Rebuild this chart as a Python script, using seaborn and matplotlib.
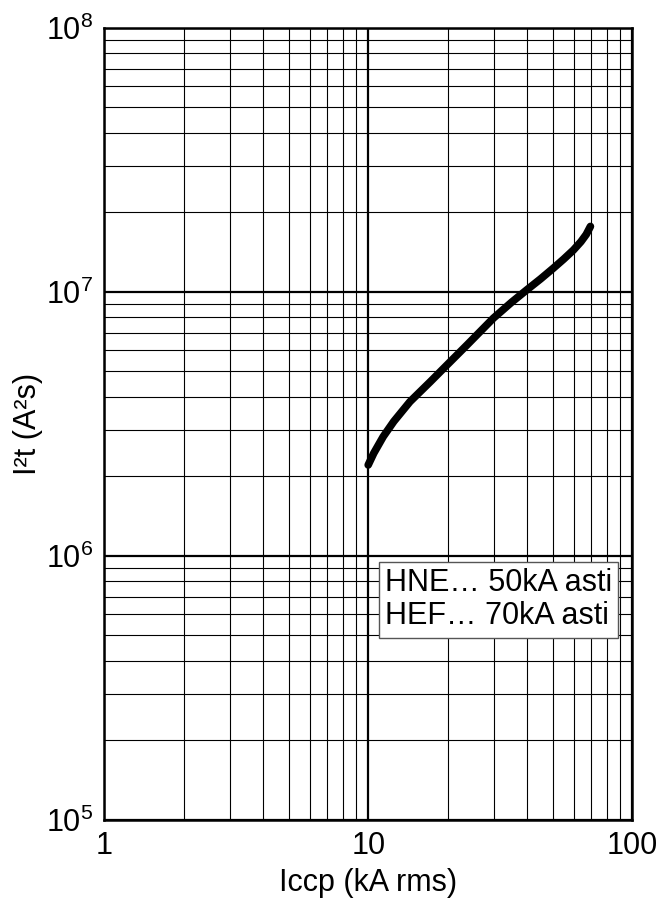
import numpy as np
import pandas as pd
import matplotlib
matplotlib.use("Agg")
import matplotlib.pyplot as plt
import matplotlib.ticker as mticker
import seaborn as sns

# curve (kA rms, A^2 s)
iccp = [10.0, 10.5, 11.4, 12.5, 14.4, 17.2, 20.2, 23.7, 29.8, 35.0, 40.0,
        45.0, 50.3, 55.0, 59.9, 64.0, 67.0, 69.5]
i2t = [2.21e6, 2.45e6, 2.83e6, 3.23e6, 3.84e6, 4.57e6, 5.37e6, 6.30e6,
       7.95e6, 9.15e6, 1.02e7, 1.12e7, 1.23e7, 1.33e7, 1.44e7, 1.55e7,
       1.65e7, 1.77e7]
legend_lines = ["HNE\u2026 50kA asti", "HEF\u2026 70kA asti"]

sns.set_style("white")
plt.rcParams['font.family'] = ['Liberation Sans', 'DejaVu Sans']
plt.rcParams['mathtext.fontset'] = 'custom'
plt.rcParams['mathtext.rm'] = 'Liberation Sans'
plt.rcParams['mathtext.default'] = 'regular'
plt.rcParams['text.color'] = 'black'
plt.rcParams['axes.labelcolor'] = 'black'
plt.rcParams['xtick.color'] = 'black'
plt.rcParams['ytick.color'] = 'black'

df = pd.DataFrame({'Iccp': iccp, 'I2t': i2t})

fig = plt.figure(figsize=(6.64, 9), dpi=100)
ax = fig.add_axes([0.157, 0.089, 0.795, 0.880])

sns.lineplot(data=df, x='Iccp', y='I2t', ax=ax, color='black', linewidth=5.5,
             solid_capstyle='round', solid_joinstyle='round')

ax.set_xscale('log')
ax.set_yscale('log')
ax.set_xlim(1, 100)
ax.set_ylim(1e5, 1e8)

ax.xaxis.set_major_locator(mticker.LogLocator(base=10))
ax.xaxis.set_minor_locator(mticker.LogLocator(base=10, subs=np.arange(2, 10)))
ax.yaxis.set_major_locator(mticker.LogLocator(base=10))
ax.yaxis.set_minor_locator(mticker.LogLocator(base=10, subs=np.arange(2, 10)))
ax.xaxis.set_major_formatter(mticker.FuncFormatter(lambda v, p: f"{v:g}"))
ax.xaxis.set_minor_formatter(mticker.NullFormatter())
ax.yaxis.set_minor_formatter(mticker.NullFormatter())

ax.grid(which='major', color='black', linewidth=1.6)
ax.grid(which='minor', color='black', linewidth=0.8)
ax.set_axisbelow(True)
for s in ax.spines.values():
    s.set_color('black')
    s.set_linewidth(1.8)

ax.tick_params(which='both', length=0, labelsize=22, pad=8)
ax.set_xlabel('Iccp (kA rms)', fontsize=22, labelpad=5)
ax.set_ylabel('I\u00b2t (A\u00b2s)', fontsize=22, labelpad=2)

ax.text(0.532, 0.278, "\n".join(legend_lines), transform=ax.transAxes,
        fontsize=22, ha='left', va='center', linespacing=1.15,
        bbox=dict(boxstyle='square,pad=0.2', facecolor='white',
                  edgecolor='#555555', linewidth=1))

fig.savefig('out.png', dpi=100)
